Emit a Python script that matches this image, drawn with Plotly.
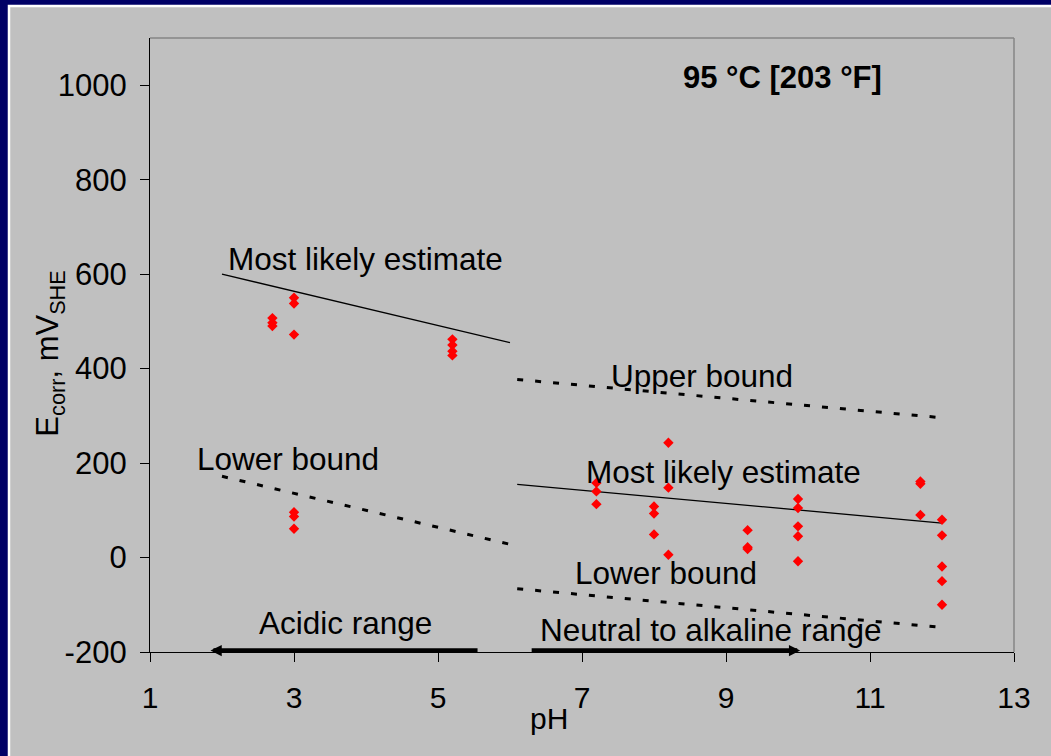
import plotly.graph_objects as go

# ---------------- data ----------------
# measured corrosion potentials (pH, Ecorr mV_SHE)
acid_ph = [2.7, 2.7, 2.7, 3.0, 3.0, 3.0, 5.2, 5.2, 5.2, 5.2, 3.0, 3.0, 3.0]
acid_e = [507, 497, 490, 550, 538, 472, 462, 450, 437, 428, 96, 87, 61]

neut_ph = [7.2, 7.2, 7.2,
           8.0, 8.0, 8.0,
           8.2, 8.2, 8.2,
           9.3, 9.3, 9.3,
           10.0, 10.0, 10.0, 10.0, 10.0,
           11.7, 11.7, 11.7,
           12.0, 12.0, 12.0, 12.0, 12.0]
neut_e = [158, 140, 113,
          108, 93, 49,
          243, 148, 6,
          58, 22, 18,
          124, 105, 66, 45, -8,
          161, 156, 90,
          80, 47, -19, -50, -100]

# estimate lines
acid_line_ph = [2.0, 6.0]
acid_likely = [600, 455]
acid_lower = [172, 28]

neut_line_ph = [6.1, 12.0]
neut_upper = [377, 296]
neut_likely = [155, 73]
neut_lower = [-66, -148]

# axis ticks
x_ticks = [1, 3, 5, 7, 9, 11, 13]
y_ticks = [-200, 0, 200, 400, 600, 800, 1000]

# range arrows (tail pH, tip pH)
acid_arrow = [5.57, 1.84]
neut_arrow = [6.28, 10.03]
arrow_e = -197

FONT = "Liberation Sans, Arial, sans-serif"

fig = go.Figure()

fig.add_trace(go.Scatter(x=acid_line_ph, y=acid_likely, mode="lines",
                         line=dict(color="black", width=1.3)))
fig.add_trace(go.Scatter(x=acid_line_ph, y=acid_lower, mode="lines",
                         line=dict(color="black", width=3, dash="6px,12px")))
fig.add_trace(go.Scatter(x=neut_line_ph, y=neut_upper, mode="lines",
                         line=dict(color="black", width=3, dash="6px,12px")))
fig.add_trace(go.Scatter(x=neut_line_ph, y=neut_likely, mode="lines",
                         line=dict(color="black", width=1.3)))
fig.add_trace(go.Scatter(x=neut_line_ph, y=neut_lower, mode="lines",
                         line=dict(color="black", width=3, dash="6px,12px")))

fig.add_trace(go.Scatter(x=acid_ph + neut_ph, y=acid_e + neut_e, mode="markers",
                         marker=dict(symbol="diamond", size=8, color="#FF0000",
                                     line=dict(width=0))))

# ---------------- text annotations ----------------
labels = [
    ("Most likely estimate", 3.99, 632),
    ("Lower bound", 2.91, 208),
    ("Upper bound", 8.67, 384),
    ("Most likely estimate", 8.96, 182),
    ("Lower bound", 8.16, -33),
    ("Acidic range", 3.71, -139),
    ("Neutral to alkaline range", 8.79, -153),
]
annotations = []
for txt, x, y in labels:
    annotations.append(dict(x=x, y=y, xref="x", yref="y", text=txt, showarrow=False,
                            xanchor="center", yanchor="middle",
                            font=dict(family=FONT, size=31.5, color="black")))

for tail, tip in (acid_arrow, neut_arrow):
    annotations.append(dict(x=tip, y=arrow_e, ax=tail, ay=arrow_e, xref="x", yref="y",
                            axref="x", ayref="y", text="", showarrow=True,
                            arrowhead=2, arrowsize=0.5, arrowwidth=4.5,
                            arrowcolor="black"))

annotations.append(dict(x=0.7315, y=0.935, xref="paper", yref="paper",
                        text="<b>95 °C [203 °F]</b>", showarrow=False,
                        xanchor="center", yanchor="middle",
                        font=dict(family=FONT, size=31, color="black")))
annotations.append(dict(x=0.4618, y=-0.1075, xref="paper", yref="paper",
                        text="pH", showarrow=False, xanchor="center", yanchor="middle",
                        font=dict(family=FONT, size=30, color="black")))
annotations.append(dict(x=-0.1157, y=0.486, xref="paper", yref="paper",
                        text="E<sub>corr</sub>, mV<sub>SHE</sub>", showarrow=False,
                        textangle=-90, xanchor="center", yanchor="middle",
                        font=dict(family=FONT, size=31, color="black")))

shapes = [
    # gray slide panel with white edge
    dict(type="rect", xref="paper", yref="paper", x0=-0.1632, x1=1.2, y0=-0.4, y1=1.0521,
         fillcolor="#C0C0C0", line=dict(color="white", width=2.5), layer="below"),
    # plot area top and right borders
    dict(type="line", xref="paper", yref="paper", x0=0, x1=1, y0=1, y1=1,
         line=dict(color="#868686", width=1.5), layer="below"),
    dict(type="line", xref="paper", yref="paper", x0=1, x1=1, y0=0, y1=1,
         line=dict(color="#868686", width=1.5), layer="below"),
]

fig.update_layout(
    width=1051, height=756, autosize=False,
    margin=dict(l=150, r=37, t=38, b=104),
    paper_bgcolor="#000066",
    plot_bgcolor="rgba(0,0,0,0)",
    showlegend=False,
    annotations=annotations,
    shapes=shapes,
    font=dict(family=FONT, color="black"),
)
fig.update_xaxes(range=[1, 13], tickvals=x_ticks, ticktext=[str(v) for v in x_ticks],
                 showgrid=False, zeroline=False, showline=True, linecolor="black",
                 linewidth=1.3, ticks="outside", ticklen=9, tickwidth=1.3,
                 tickcolor="black", ticklabelstandoff=10,
                 tickfont=dict(family=FONT, size=30, color="black"))
fig.update_yaxes(range=[-200, 1100], tickvals=y_ticks, ticktext=[str(v) for v in y_ticks],
                 showgrid=False, zeroline=False, showline=True, linecolor="black",
                 linewidth=1.3, ticks="outside", ticklen=9, tickwidth=1.3,
                 tickcolor="black", ticklabelstandoff=7,
                 tickfont=dict(family=FONT, size=31, color="black"))

fig.write_html("out.html")
